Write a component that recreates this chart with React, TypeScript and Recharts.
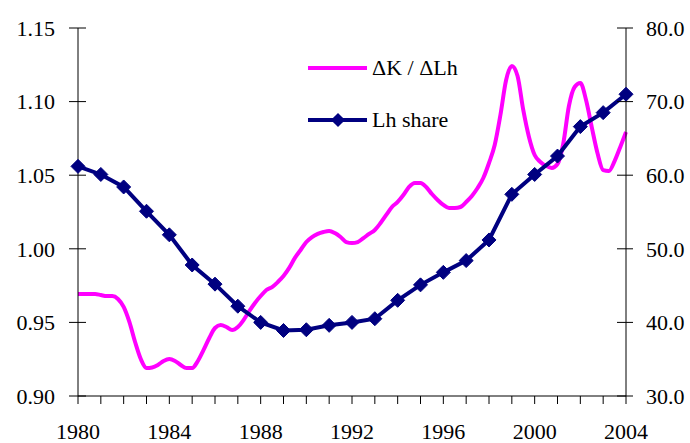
import React from 'react';
import {
  ComposedChart,
  Line,
  XAxis,
  YAxis
} from 'recharts';

// ΔK / ΔLh, quarterly from 1980Q1 to 2004Q1 (left axis)
const kRatio = [
  0.9693, 0.9693, 0.9693, 0.9693, 0.9686, 0.9679, 0.9679, 0.9659,
  0.9605, 0.9503, 0.9367, 0.9251, 0.9190, 0.9194, 0.9211, 0.9238,
  0.9251, 0.9238, 0.9211, 0.9190, 0.9190, 0.9238, 0.9313, 0.9394,
  0.9462, 0.9482, 0.9469, 0.9448, 0.9469, 0.9516, 0.9577, 0.9632,
  0.9679, 0.9720, 0.9740, 0.9774, 0.9815, 0.9870, 0.9938, 0.9992,
  1.0046, 1.0080, 1.0101, 1.0114, 1.0121, 1.0107, 1.0080, 1.0046,
  1.0039, 1.0046, 1.0073, 1.0101, 1.0128, 1.0175, 1.0230, 1.0284,
  1.0318, 1.0365, 1.0420, 1.0447, 1.0447, 1.0420, 1.0372, 1.0332,
  1.0298, 1.0277, 1.0277, 1.0284, 1.0318, 1.0359, 1.0413, 1.0481,
  1.0583, 1.0705, 1.0909, 1.1147, 1.1242, 1.1174, 1.0943, 1.0760,
  1.0637, 1.0590, 1.0563, 1.0549, 1.0576, 1.0712, 1.0970, 1.1099,
  1.1126, 1.1011, 1.0827, 1.0651, 1.0535, 1.0529, 1.0596, 1.0692,
  1.0793
];

// Lh share, annual (right axis)
const years = [
  1980, 1981, 1982, 1983, 1984, 1985, 1986, 1987, 1988, 1989, 1990, 1991,
  1992, 1993, 1994, 1995, 1996, 1997, 1998, 1999, 2000, 2001, 2002, 2003, 2004
];
const lhShare = [
  61.2, 60.1, 58.4, 55.1, 51.9, 47.8, 45.2, 42.2, 40.0, 38.9, 39.0, 39.6,
  40.0, 40.5, 43.0, 45.1, 46.8, 48.4, 51.2, 57.4, 60.1, 62.6, 66.6, 68.5, 71.0
];

const leftTicks = [0.9, 0.95, 1.0, 1.05, 1.1, 1.15];
const rightTicks = [30, 40, 50, 60, 70, 80];
const yearLabels = [1980, 1984, 1988, 1992, 1996, 2000, 2004];

const kData = kRatio.map((v, i) => ({ t: 1980 + i / 4, k: v }));
const lhData = years.map((y, i) => ({ t: y, lh: lhShare[i] }));

const FONT = "'Times New Roman', 'Liberation Serif', serif";
const MAGENTA = '#FF00FF';
const NAVY = '#000080';

const textStyle = { fontFamily: FONT, fontSize: 22, fill: '#000' };

const LeftTick = (props: any) => {
  const { x, y, payload } = props;
  return (
    <g>
      <line x1={x - 9} x2={x + 8} y1={y} y2={y} stroke="#000" strokeWidth={1} />
      <text x={x - 23} y={y} dy="0.35em" textAnchor="end" style={textStyle}>
        {Number(payload.value).toFixed(2)}
      </text>
    </g>
  );
};

const RightTick = (props: any) => {
  const { x, y, payload } = props;
  return (
    <g>
      <line x1={x - 9} x2={x + 7} y1={y} y2={y} stroke="#000" strokeWidth={1} />
      <text x={x + 20} y={y} dy="0.35em" textAnchor="start" style={textStyle}>
        {Number(payload.value).toFixed(1)}
      </text>
    </g>
  );
};

const YearTick = (props: any) => {
  const { x, y, payload } = props;
  const show = yearLabels.includes(payload.value);
  return (
    <g>
      <line x1={x} x2={x} y1={y} y2={y + 8} stroke="#000" strokeWidth={1} />
      {show && (
        <text x={x} y={y + 35} dy="0.35em" textAnchor="middle" style={textStyle}>
          {payload.value}
        </text>
      )}
    </g>
  );
};

const Diamond = (props: any) => {
  const { cx, cy } = props;
  if (cx == null || cy == null) return null;
  const s = 7;
  return (
    <polygon
      points={`${cx},${cy - s} ${cx + s},${cy} ${cx},${cy + s} ${cx - s},${cy}`}
      fill={NAVY}
      stroke={NAVY}
    />
  );
};

const LegendBox = () => (
  <div
    style={{
      position: 'absolute',
      left: 308,
      top: 55,
      fontFamily: FONT,
      fontSize: 22,
      color: '#000',
      lineHeight: '26px'
    }}
  >
    <div style={{ display: 'flex', alignItems: 'center', height: 26 }}>
      <div style={{ width: 59, height: 4, background: MAGENTA, marginRight: 5 }} />
      <span>ΔK / ΔLh</span>
    </div>
    <div style={{ display: 'flex', alignItems: 'center', height: 26, marginTop: 26 }}>
      <div style={{ position: 'relative', width: 59, height: 4, background: NAVY, marginRight: 5 }}>
        <div
          style={{
            position: 'absolute',
            left: 25,
            top: -3,
            width: 10,
            height: 10,
            background: NAVY,
            transform: 'rotate(45deg)'
          }}
        />
      </div>
      <span>Lh share</span>
    </div>
  </div>
);

const App: React.FC = () => {
  return (
    <div style={{ position: 'absolute', left: 0, top: 0, width: 690, height: 443, background: '#FFFFFF' }}>
      <ComposedChart
        width={690}
        height={443}
        margin={{ top: 28, right: 0, bottom: 0, left: 0 }}
      >
        <XAxis
          dataKey="t"
          type="number"
          domain={[1980, 2004]}
          ticks={years}
          interval={0}
          height={47}
          tickSize={0}
          tickMargin={0}
          tickLine={false}
          tick={<YearTick />}
          axisLine={{ stroke: '#000', strokeWidth: 1 }}
          allowDuplicatedCategory={false}
        />
        <YAxis
          yAxisId="left"
          orientation="left"
          domain={[0.9, 1.15]}
          ticks={leftTicks}
          interval={0}
          width={78}
          tickSize={0}
          tickMargin={0}
          tickLine={false}
          tick={<LeftTick />}
          axisLine={{ stroke: '#000', strokeWidth: 1 }}
        />
        <YAxis
          yAxisId="right"
          orientation="right"
          domain={[30, 80]}
          ticks={rightTicks}
          interval={0}
          width={64}
          tickSize={0}
          tickMargin={0}
          tickLine={false}
          tick={<RightTick />}
          axisLine={{ stroke: '#000', strokeWidth: 1 }}
        />
        <Line
          data={kData}
          yAxisId="left"
          dataKey="k"
          name="ΔK / ΔLh"
          type="monotone"
          stroke={MAGENTA}
          strokeWidth={4}
          dot={false}
          activeDot={false}
          isAnimationActive={false}
        />
        <Line
          data={lhData}
          yAxisId="right"
          dataKey="lh"
          name="Lh share"
          type="linear"
          stroke={NAVY}
          strokeWidth={4}
          dot={<Diamond />}
          activeDot={false}
          isAnimationActive={false}
        />
      </ComposedChart>
      <LegendBox />
    </div>
  );
};

export default App;
